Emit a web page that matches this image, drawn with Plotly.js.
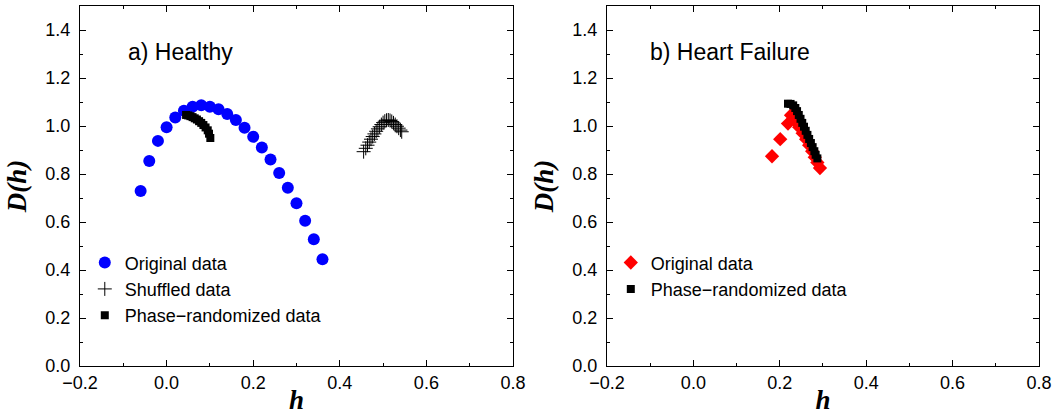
<!DOCTYPE html>
<html>
<head>
<meta charset="utf-8">
<script src="https://cdn.plot.ly/plotly-3.0.1.min.js"></script>
<style>html,body{margin:0;padding:0;background:#fff;}#chart{width:1054px;height:415px;}</style>
</head>
<body>
<div id="chart"></div>
<script>
// ---- Panel a) Healthy ----
var healthyOrigH = [-0.060,-0.040,-0.020,0.000,0.020,0.040,0.060,0.080,0.100,0.120,0.140,0.160,0.180,0.200,0.220,0.240,0.260,0.280,0.300,0.320,0.340,0.360];
var healthyOrigD = [0.729,0.854,0.938,0.995,1.035,1.064,1.080,1.086,1.080,1.070,1.050,1.025,0.993,0.955,0.910,0.860,0.804,0.743,0.678,0.605,0.528,0.445];

var healthyShufH = [0.455,0.460,0.464,0.468,0.472,0.476,0.480,0.484,0.488,0.492,0.496,0.500,0.504,0.508,0.512,0.516,0.520,0.524,0.528,0.532,0.536,0.540,0.543];
var healthyShufD = [0.893,0.907,0.920,0.933,0.945,0.956,0.967,0.978,0.988,0.997,1.006,1.014,1.020,1.024,1.025,1.023,1.019,1.013,1.006,0.999,0.991,0.983,0.976];

var healthyPhaseH = [0.045,0.050,0.055,0.060,0.065,0.070,0.075,0.080,0.085,0.090,0.095,0.098,0.101];
var healthyPhaseD = [1.046,1.044,1.041,1.037,1.032,1.027,1.020,1.013,1.004,0.994,0.982,0.968,0.950];

// ---- Panel b) Heart Failure ----
var hfOrigH = [0.182,0.201,0.219,0.226,0.236,0.245,0.253,0.261,0.268,0.275,0.281,0.287,0.293];
var hfOrigD = [0.874,0.945,1.010,1.045,1.020,0.995,0.970,0.945,0.920,0.895,0.870,0.848,0.825];

var hfPhaseH = [0.219,0.225,0.231,0.236,0.240,0.244,0.248,0.252,0.256,0.260,0.264,0.268,0.272,0.276,0.280,0.283,0.287];
var hfPhaseD = [1.093,1.092,1.086,1.075,1.062,1.046,1.030,1.013,0.997,0.980,0.963,0.946,0.929,0.912,0.895,0.880,0.865];

var seriesNames = ['Original data','Shuffled data','Phase\u2212randomized data'];
var panelLabels = ['a) Healthy','b) Heart Failure'];
var xTickVals = [-0.2,0.0,0.2,0.4,0.6,0.8];
var yTickVals = [0.0,0.2,0.4,0.6,0.8,1.0,1.2,1.4];

var traces = [
  {x: healthyOrigH, y: healthyOrigD, type:'scatter', mode:'markers', name: seriesNames[0],
   marker:{symbol:'circle', size:12, color:'#0000ff'}, xaxis:'x', yaxis:'y', legend:'legend'},
  {x: healthyShufH, y: healthyShufD, type:'scatter', mode:'markers', name: seriesNames[1],
   marker:{symbol:'cross-thin-open', size:10, color:'#000000', line:{width:1, color:'#000000'}}, xaxis:'x', yaxis:'y', legend:'legend'},
  {x: healthyPhaseH, y: healthyPhaseD, type:'scatter', mode:'markers', name: seriesNames[2],
   marker:{symbol:'square', size:8, color:'#000000'}, xaxis:'x', yaxis:'y', legend:'legend'},
  {x: hfOrigH, y: hfOrigD, type:'scatter', mode:'markers', name: seriesNames[0],
   marker:{symbol:'diamond', size:11, color:'#ff0000'}, xaxis:'x2', yaxis:'y2', legend:'legend2'},
  {x: hfPhaseH, y: hfPhaseD, type:'scatter', mode:'markers', name: seriesNames[2],
   marker:{symbol:'square', size:8, color:'#000000'}, xaxis:'x2', yaxis:'y2', legend:'legend2'}
];

var tickFont = {family:'Liberation Sans, Arial, sans-serif', size:18, color:'#000'};
var titleFont = {family:'Liberation Serif, Times New Roman, serif', size:27, color:'#000'};

function xAxis(domain, anchor){
  return {domain:domain, anchor:anchor, range:[-0.2,0.8], tickvals:xTickVals,
    ticktext:xTickVals.map(function(v){return v.toFixed(1).replace('-','\u2212');}),
    ticks:'inside', ticklen:6, tickcolor:'#000', showline:true, linecolor:'#000', linewidth:1,
    mirror:'ticks', showgrid:false, zeroline:false, tickfont:tickFont, automargin:false, ticklabelstandoff:0,
    minor:{dtick:0.1, tick0:-0.2, ticks:'inside', ticklen:3, tickcolor:'#000', showgrid:false},
    title:{text:'<b><i>h</i></b>', font:titleFont, standoff:4}};
}
function yAxis(domain, anchor){
  return {domain:domain, anchor:anchor, range:[0,1.5], tickvals:yTickVals,
    ticktext:yTickVals.map(function(v){return v.toFixed(1);}),
    ticks:'inside', ticklen:6, tickcolor:'#000', showline:true, linecolor:'#000', linewidth:1,
    mirror:'ticks', showgrid:false, zeroline:false, tickfont:tickFont, automargin:false, ticklabelstandoff:5,
    minor:{dtick:0.1, tick0:0, ticks:'inside', ticklen:3, tickcolor:'#000', showgrid:false},
    title:{text:'<b><i>D(h)</i></b>', font:titleFont, standoff:10}};
}

var layout = {
  width:1054, height:415,
  margin:{l:80, r:15, t:6, b:49},
  paper_bgcolor:'#fff', plot_bgcolor:'#fff',
  xaxis: xAxis([0,0.4515],'y'),
  yaxis: yAxis([0,1],'x'),
  xaxis2: xAxis([0.5495,1],'y2'),
  yaxis2: yAxis([0,1],'x2'),
  showlegend:true,
  legend:{x:0.005, y:0.338, xanchor:'left', yanchor:'top', bgcolor:'rgba(0,0,0,0)', borderwidth:0,
    font:{family:'Liberation Sans, Arial, sans-serif', size:18, color:'#000'}, tracegroupgap:0, itemsizing:'trace'},
  legend2:{x:0.5535, y:0.338, xanchor:'left', yanchor:'top', bgcolor:'rgba(0,0,0,0)', borderwidth:0,
    font:{family:'Liberation Sans, Arial, sans-serif', size:18, color:'#000'}, tracegroupgap:0, itemsizing:'trace'},
  annotations:[
    {xref:'x', yref:'y', x:-0.093, y:1.31, text:panelLabels[0], showarrow:false, xanchor:'left', yanchor:'middle',
     font:{family:'Liberation Sans, Arial, sans-serif', size:23, color:'#000'}},
    {xref:'x2', yref:'y2', x:-0.104, y:1.31, text:panelLabels[1], showarrow:false, xanchor:'left', yanchor:'middle',
     font:{family:'Liberation Sans, Arial, sans-serif', size:23, color:'#000'}}
  ]
};

Plotly.newPlot('chart', traces, layout, {displayModeBar:false, staticPlot:true});
</script>
</body>
</html>
